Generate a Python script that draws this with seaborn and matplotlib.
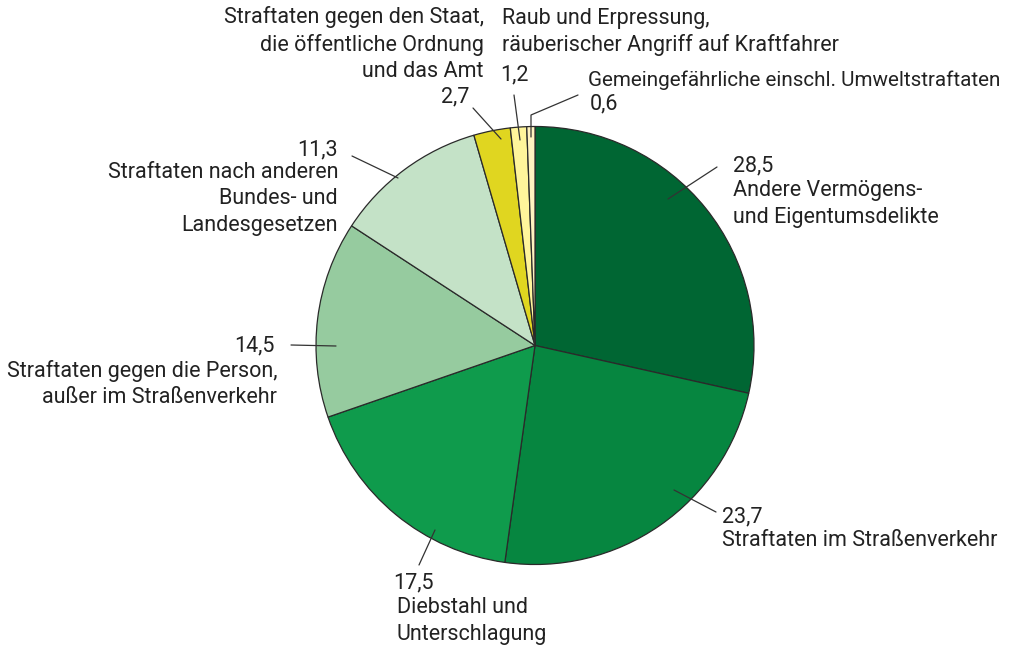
import matplotlib
matplotlib.use('Agg')
import matplotlib.pyplot as plt
import seaborn as sns

# Anteile der Straftaten in Prozent
kategorien = [
    'Andere Vermögens-\nund Eigentumsdelikte',
    'Straftaten im Straßenverkehr',
    'Diebstahl und\nUnterschlagung',
    'Straftaten gegen die Person,\naußer im Straßenverkehr',
    'Straftaten nach anderen\nBundes- und\nLandesgesetzen',
    'Straftaten gegen den Staat,\ndie öffentliche Ordnung\nund das Amt',
    'Raub und Erpressung,\nräuberischer Angriff auf Kraftfahrer',
    'Gemeingefährliche einschl. Umweltstraftaten',
]
anteile = [28.5, 23.7, 17.5, 14.5, 11.3, 2.7, 1.2, 0.6]
farben = ['#006633', '#068640', '#0f9b4c', '#96cb9f',
          '#c4e2c7', '#e0d620', '#fff59b', '#fff3c0']

sns.set_theme(style='white')
plt.rcParams['font.family'] = ['Roboto', 'DejaVu Sans']

W, H = 1013, 648
fig = plt.figure(figsize=(W / 100, H / 100), dpi=100)
ax = fig.add_axes([0, 0, 1, 1])


def Y(y):
    return H - y


ax.pie(anteile, colors=sns.color_palette(farben), startangle=90,
       counterclock=False, center=(535, Y(345.5)), radius=219,
       wedgeprops=dict(edgecolor='#2a2a2a', linewidth=0.9), frame=True)
ax.set_xlim(0, W)
ax.set_ylim(0, H)
ax.set_aspect('equal')
ax.axis('off')

# Beschriftungen: (Wert-Pos, Text-Pos, Ausrichtung, Führungslinie, Schriftgröße)
layout = [
    ((733, 166), (733, 204), 'left', 'left', [(668, 199), (717, 167)], 15.5),
    ((722, 517), (722, 541), 'left', 'left', [(674, 490), (716, 512)], 15.5),
    ((393, 583), (397, 621), 'left', 'left', [(435, 530), (419, 565)], 15.5),
    ((275, 346), (277, 384), 'right', 'right', [(336, 346), (291, 345)], 15.5),
    ((338, 150), (338, 199), 'right', 'right', [(398, 178), (352, 156)], 15.5),
    ((455, 97), (484, 44), 'center', 'right', [(501, 139), (473, 108)], 15.5),
    ((514, 75), (502, 32), 'center', 'left', [(520, 140), (514, 95)], 15.5),
    ((590, 104), (588, 80), 'left', 'left',
     [(531, 137), (531, 115), (578, 95)], 14.9),
]

for kat, wert, (vpos, tpos, vha, tha, linie, fs) in zip(kategorien, anteile, layout):
    ax.text(vpos[0], Y(vpos[1]), f'{wert:.1f}'.replace('.', ','),
            ha=vha, va='center', fontsize=15.5, color='#222222')
    ax.text(tpos[0], Y(tpos[1]), kat, ha=tha, va='center',
            multialignment=tha, fontsize=fs, color='#222222',
            linespacing=1.32)
    xs = [p[0] for p in linie]
    ys = [Y(p[1]) for p in linie]
    ax.plot(xs, ys, color='#333333', linewidth=0.9)

fig.savefig('out.png', dpi=100)
